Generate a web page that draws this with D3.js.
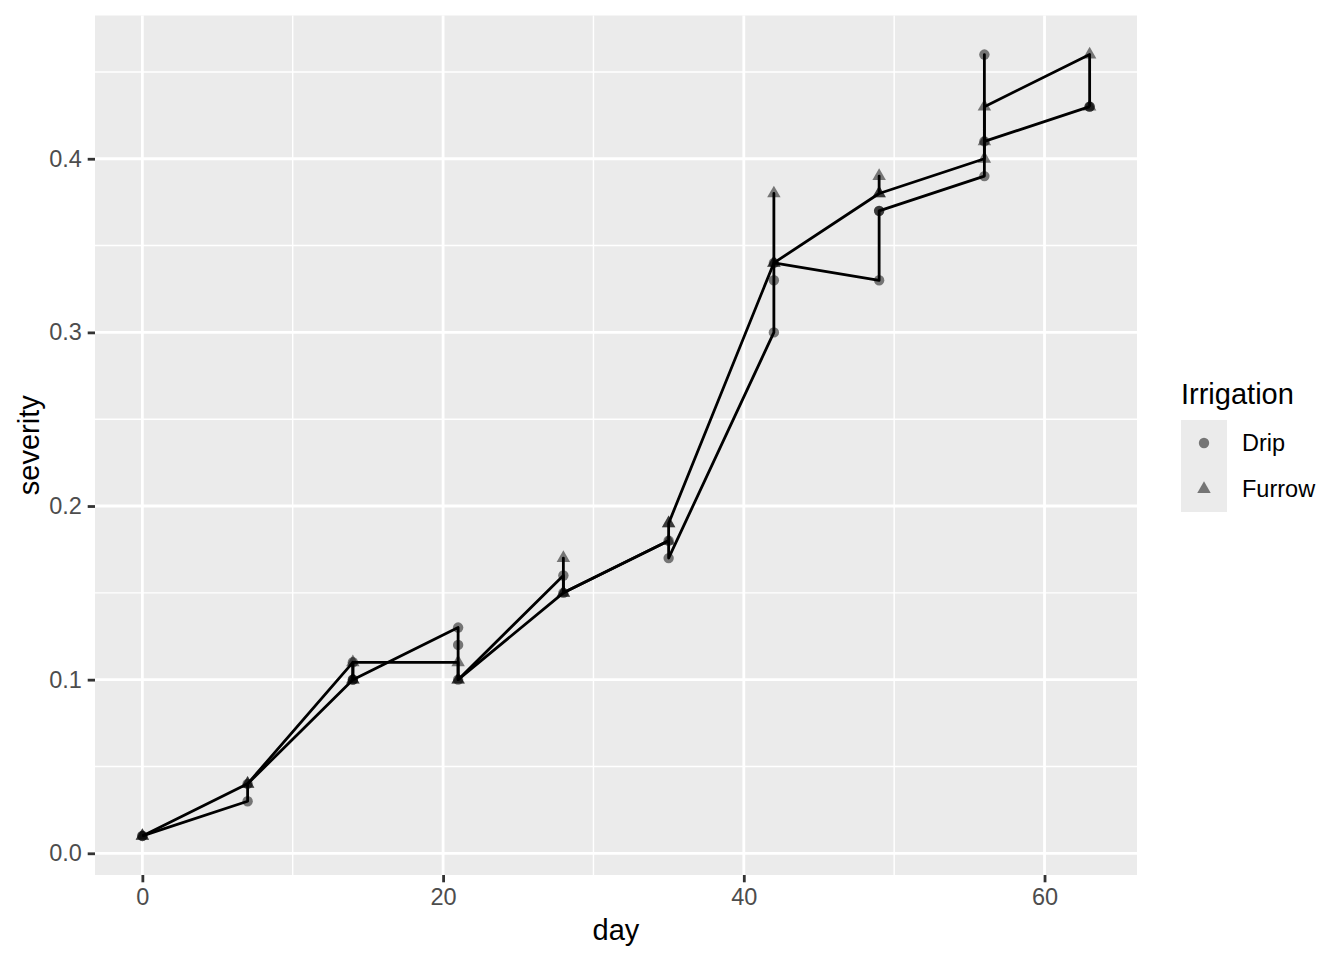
<!DOCTYPE html>
<html>
<head>
<meta charset="utf-8">
<script src="https://cdn.jsdelivr.net/npm/d3@7"></script>
<style>
  body { margin: 0; background: #ffffff; }
  svg { display: block; font-family: 'Liberation Sans', Arial, sans-serif; }
</style>
</head>
<body>
<div id="chart"></div>
<script>
'use strict';

// assessment days
const days = [0, 7, 14, 21, 28, 35, 42, 49, 56, 63];
// severity readings per day, in data order (the line walks them in this order)
const dripSeverity = [
    [0.01, 0.01],
    [0.03, 0.04],
    [0.11, 0.10, 0.10],
    [0.13, 0.12, 0.10],
    [0.16, 0.15],
    [0.18, 0.17],
    [0.30, 0.33, 0.34],
    [0.33, 0.37, 0.37],
    [0.39, 0.46, 0.41],
    [0.43, 0.43]
];
const furrowSeverity = [
    [0.01, 0.01],
    [0.04, 0.04],
    [0.10, 0.10, 0.11],
    [0.11, 0.10, 0.10],
    [0.15, 0.17, 0.15],
    [0.18, 0.19, 0.19],
    [0.34, 0.38, 0.34],
    [0.38, 0.39, 0.38],
    [0.40, 0.41, 0.43],
    [0.46, 0.43]
];
const irrigationLevels = ['Drip', 'Furrow'];
const xMajorTicks = [0, 20, 40, 60];
const xMinorTicks = [10, 30, 50];
const yMajorTicks = [0.0, 0.1, 0.2, 0.3, 0.4];
const yMinorTicks = [0.05, 0.15, 0.25, 0.35, 0.45];

const width = 1344;
const height = 960;
const panel = {left: 95, right: 1137, top: 15.5, bottom: 875};
const tickLen = 7.3;
const tickPad = 5.9;
const lineW = 2.8;

// flatten into long rows: one row per reading
function toRows(series, level) {
    let rows = [];
    series.forEach(function(values, i) {
        values.forEach(function(v) {
            rows.push({day: days[i], severity: v, irrigation: level});
        });
    });
    return rows;
}
let groups = [
    {key: 'Drip', rows: toRows(dripSeverity, 'Drip')},
    {key: 'Furrow', rows: toRows(furrowSeverity, 'Furrow')}
];
let allRows = groups[0].rows.concat(groups[1].rows);

// ggplot style 5% expansion
function expand(ext) {
    let pad = (ext[1] - ext[0]) * 0.05;
    return [ext[0] - pad, ext[1] + pad];
}

let x = d3.scaleLinear()
    .domain(expand(d3.extent(allRows, d => d.day)))
    .range([panel.left, panel.right]);

let y = d3.scaleLinear()
    .domain(expand(d3.extent(allRows, d => d.severity)))
    .range([panel.bottom, panel.top]);

let svg = d3.select('#chart')
    .append('svg')
    .attr('width', width)
    .attr('height', height);

// panel background
svg.append('rect')
    .attr('x', panel.left)
    .attr('y', panel.top)
    .attr('width', panel.right - panel.left)
    .attr('height', panel.bottom - panel.top)
    .attr('fill', '#ebebeb');

// grid lines
let grid = svg.append('g').attr('class', 'grid');
grid.selectAll('.x-minor').data(xMinorTicks).enter().append('line')
    .attr('x1', d => x(d)).attr('x2', d => x(d))
    .attr('y1', panel.top).attr('y2', panel.bottom)
    .attr('stroke', '#ffffff').attr('stroke-width', lineW / 2);
grid.selectAll('.y-minor').data(yMinorTicks).enter().append('line')
    .attr('x1', panel.left).attr('x2', panel.right)
    .attr('y1', d => y(d)).attr('y2', d => y(d))
    .attr('stroke', '#ffffff').attr('stroke-width', lineW / 2);
grid.selectAll('.x-major').data(xMajorTicks).enter().append('line')
    .attr('x1', d => x(d)).attr('x2', d => x(d))
    .attr('y1', panel.top).attr('y2', panel.bottom)
    .attr('stroke', '#ffffff').attr('stroke-width', lineW);
grid.selectAll('.y-major').data(yMajorTicks).enter().append('line')
    .attr('x1', panel.left).attr('x2', panel.right)
    .attr('y1', d => y(d)).attr('y2', d => y(d))
    .attr('stroke', '#ffffff').attr('stroke-width', lineW);

// axes
let xAxis = d3.axisBottom(x)
    .tickValues(xMajorTicks)
    .tickSize(tickLen)
    .tickPadding(tickPad)
    .tickFormat(d3.format('d'));

let yAxis = d3.axisLeft(y)
    .tickValues(yMajorTicks)
    .tickSize(tickLen)
    .tickPadding(tickPad)
    .tickFormat(d3.format('.1f'));

let gX = svg.append('g')
    .attr('transform', 'translate(0,' + panel.bottom + ')')
    .call(xAxis);
let gY = svg.append('g')
    .attr('transform', 'translate(' + panel.left + ',0)')
    .call(yAxis);

[gX, gY].forEach(function(g) {
    g.select('.domain').remove();
    g.selectAll('.tick line').attr('stroke', '#333333').attr('stroke-width', lineW);
    g.selectAll('.tick text')
        .attr('fill', '#4d4d4d')
        .style('font-size', '23.5px')
        .style('font-family', '\'Liberation Sans\', Arial, sans-serif');
});
// x labels: cap top just under the tick
gX.selectAll('.tick text').attr('dy', null).attr('y', tickLen + tickPad + 17);

// axis titles
svg.append('text')
    .attr('x', (panel.left + panel.right) / 2)
    .attr('y', 940)
    .attr('text-anchor', 'middle')
    .style('font-size', '29px')
    .text('day');

svg.append('text')
    .attr('transform', 'translate(39,' + ((panel.top + panel.bottom) / 2) + ') rotate(-90)')
    .attr('text-anchor', 'middle')
    .style('font-size', '29px')
    .text('severity');

// symbol sizes (R pch 19 / pch 17 proportions)
const pointRadius = 5.2;
const triR = 5;
function trianglePoints(cx, cy) {
    let top = 1.5551 * triR;
    let half = 1.3468 * triR;
    let low = 0.7776 * triR;
    return [[cx, cy - top], [cx + half, cy + low], [cx - half, cy + low]]
        .map(p => p.join(',')).join(' ');
}

// points
let pointsG = svg.append('g').attr('class', 'points');
groups.forEach(function(g) {
    if (g.key === 'Drip') {
        pointsG.selectAll('.drip').data(g.rows).enter().append('circle')
            .attr('class', 'drip')
            .attr('cx', d => x(d.day))
            .attr('cy', d => y(d.severity))
            .attr('r', pointRadius)
            .attr('fill', '#000000')
            .attr('fill-opacity', 0.5);
    } else {
        pointsG.selectAll('.furrow').data(g.rows).enter().append('polygon')
            .attr('class', 'furrow')
            .attr('points', d => trianglePoints(x(d.day), y(d.severity)))
            .attr('fill', '#000000')
            .attr('fill-opacity', 0.5);
    }
});

// lines: one per irrigation, ordered by day, ties kept in data order
let line = d3.line()
    .x(d => x(d.day))
    .y(d => y(d.severity));

svg.append('g').attr('class', 'lines')
    .selectAll('path')
    .data(groups)
    .enter()
    .append('path')
    .attr('d', d => line(d.rows))
    .attr('fill', 'none')
    .attr('stroke', '#000000')
    .attr('stroke-width', lineW)
    .attr('stroke-linejoin', 'round');

// legend
let legend = svg.append('g').attr('transform', 'translate(1181,0)');
legend.append('text')
    .attr('x', 0)
    .attr('y', 404)
    .style('font-size', '29px')
    .text('Irrigation');

let keySize = 46;
let keys = legend.selectAll('.key')
    .data(irrigationLevels)
    .enter()
    .append('g')
    .attr('transform', (d, i) => 'translate(0,' + (420 + i * keySize) + ')');

keys.append('rect')
    .attr('width', keySize)
    .attr('height', keySize)
    .attr('fill', '#ebebeb');

keys.each(function(d) {
    let k = d3.select(this);
    if (d === 'Drip') {
        k.append('circle')
            .attr('cx', keySize / 2)
            .attr('cy', keySize / 2)
            .attr('r', pointRadius)
            .attr('fill', '#000000')
            .attr('fill-opacity', 0.5);
    } else {
        k.append('polygon')
            .attr('points', trianglePoints(keySize / 2, keySize / 2))
            .attr('fill', '#000000')
            .attr('fill-opacity', 0.5);
    }
});

keys.append('text')
    .attr('x', 61)
    .attr('y', keySize / 2)
    .attr('dy', '0.35em')
    .style('font-size', '23.5px')
    .text(d => d);
</script>
</body>
</html>
